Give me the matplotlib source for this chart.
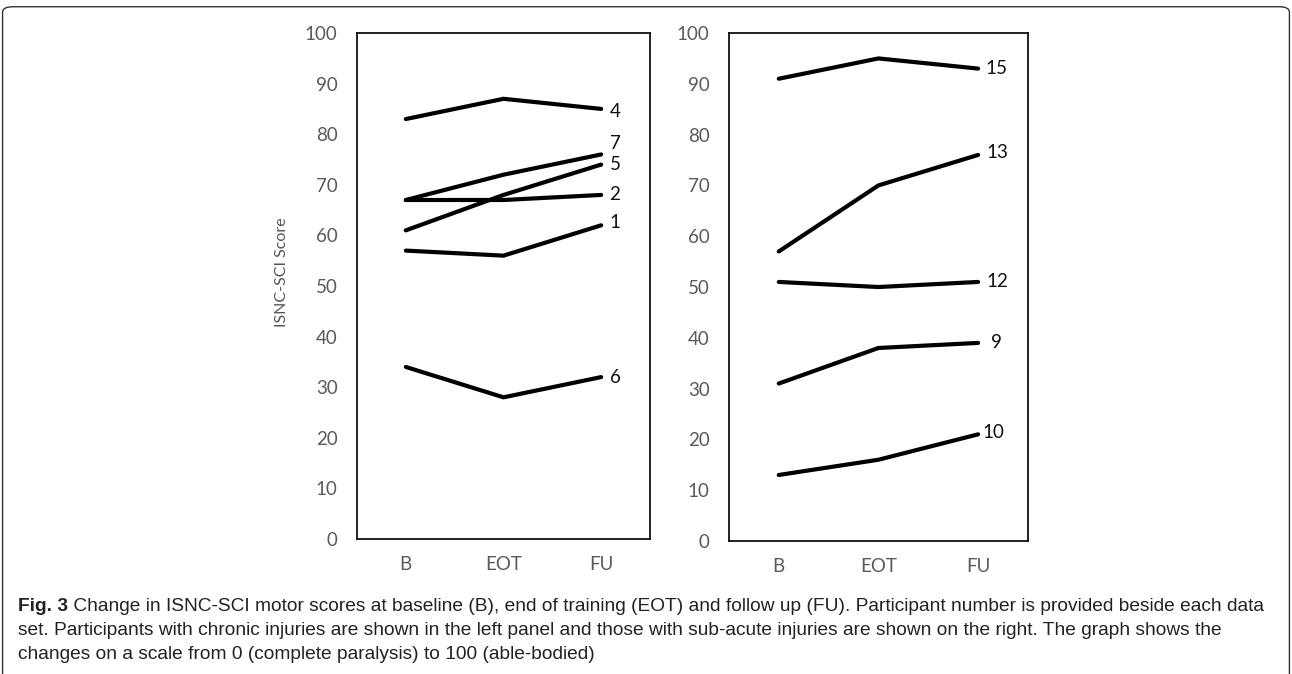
import matplotlib.pyplot as plt
from matplotlib import font_manager
from matplotlib.patches import FancyBboxPatch

# data
stages = ['B', 'EOT', 'FU']
chronic_ids = ['4', '7', '5', '2', '1', '6']
chronic_scores = [
    [83, 87, 85],
    [67, 72, 76],
    [61, 68, 74],
    [67, 67, 68],
    [57, 56, 62],
    [34, 28, 32],
]
subacute_ids = ['15', '13', '12', '9', '10']
subacute_scores = [
    [91, 95, 93],
    [57, 70, 76],
    [51, 50, 51],
    [31, 38, 39],
    [13, 16, 21],
]
yticks = list(range(0, 101, 10))

# label nudges (points)
chronic_offsets = [(6, -2), (6, 8), (6, 0), (6, 0), (6, 2), (6, 0)]
subacute_offsets = [(5, 0), (6, 2), (6, 0), (9, 0), (3, 1)]

names = {f.name for f in font_manager.fontManager.ttflist}
cap_font = 'Liberation Sans Narrow' if 'Liberation Sans Narrow' in names else 'Liberation Sans'
tick_font = 'Lato'

fig = plt.figure(figsize=(12.92, 6.74), dpi=100)

# outer frame
frame = FancyBboxPatch((0.002, -0.05), 0.996, 1.04, boxstyle='round,pad=0,rounding_size=0.008',
                       transform=fig.transFigure, fill=False, edgecolor='#333333', lw=1.0)
fig.patches.append(frame)

ax1 = fig.add_axes([0.2763, 0.2003, 0.2268, 0.7507])
ax2 = fig.add_axes([0.5642, 0.1973, 0.2314, 0.7537])


def draw_panel(ax, ids, scores, offsets):
    x = range(len(stages))
    for pid, s, off in zip(ids, scores, offsets):
        ax.plot(x, s, color='black', lw=3, solid_capstyle='round', solid_joinstyle='round')
        ax.annotate(pid, (x[-1], s[-1]), xytext=off, textcoords='offset points',
                    va='center', ha='left', fontsize=13.5, family=tick_font, color='#111111')
    ax.set_xlim(-0.5, 2.5)
    ax.set_ylim(0, 100)
    ax.set_yticks(yticks)
    ax.set_xticks(list(x))
    ax.set_xticklabels(stages)
    ax.tick_params(length=0, labelsize=13.5, labelcolor='#5a5a5a', pad=12)
    ax.tick_params(axis='y', pad=14)
    for lab in ax.get_xticklabels() + ax.get_yticklabels():
        lab.set_family(tick_font)
    for sp in ax.spines.values():
        sp.set_linewidth(1.3)
        sp.set_color('#111111')


draw_panel(ax1, chronic_ids, chronic_scores, chronic_offsets)
draw_panel(ax2, subacute_ids, subacute_scores, subacute_offsets)
ax1.set_ylabel('ISNC-SCI Score', fontsize=11.5, color='#555555', family=tick_font)
ax1.yaxis.set_label_coords(-0.232, 0.528)

# caption
cap_kw = dict(fontsize=13.8, family=cap_font, color='#222222', va='baseline')
t1 = fig.text(0.014, 1 - 611 / 674, 'Fig. 3', fontweight='bold', **cap_kw)
plt.annotate(' Change in ISNC-SCI motor scores at baseline (B), end of training (EOT) and follow up (FU). '
             'Participant number is provided beside each data',
             xy=(1, 0), xycoords=t1, xytext=(0, 0), textcoords='offset points',
             annotation_clip=False, fontsize=13.8, family=cap_font, color='#222222', va='bottom')
fig.text(0.014, 1 - 635 / 674, 'set. Participants with chronic injuries are shown in the left panel and those with '
         'sub-acute injuries are shown on the right. The graph shows the', **cap_kw)
fig.text(0.014, 1 - 659 / 674, 'changes on a scale from 0 (complete paralysis) to 100 (able-bodied)', **cap_kw)

fig.savefig('out.png', dpi=100)
